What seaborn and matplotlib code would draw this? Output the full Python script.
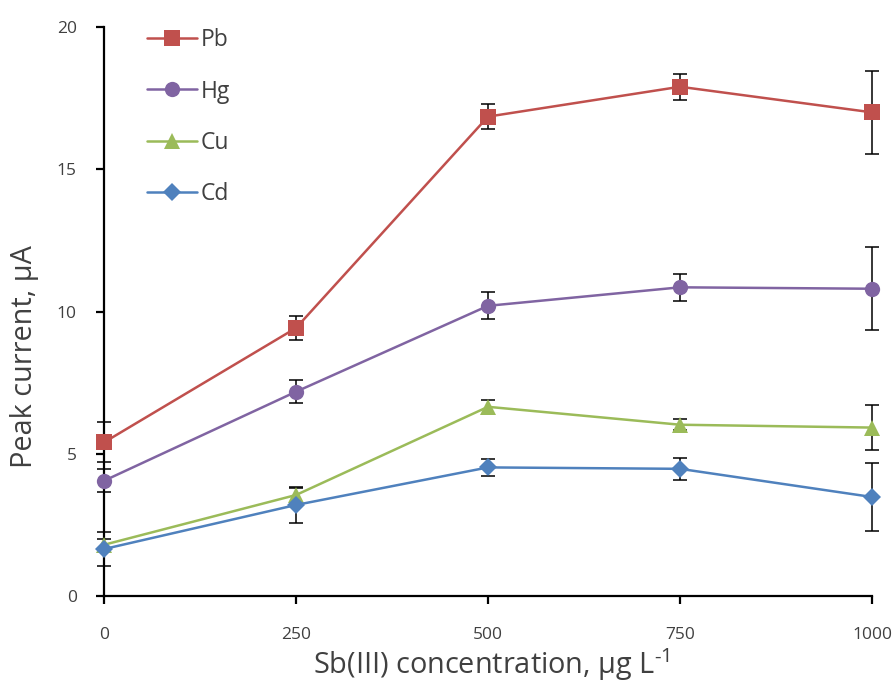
import matplotlib
matplotlib.use("Agg")
import matplotlib.pyplot as plt
import seaborn as sns
import pandas as pd

# ---- data ----
concentration = [0, 250, 500, 750, 1000]
metals = ["Pb", "Hg", "Cu", "Cd"]
pb = [5.4, 9.42, 16.85, 17.9, 17.0]
hg = [4.05, 7.18, 10.2, 10.85, 10.8]
cu = [1.8, 3.55, 6.65, 6.02, 5.92]
cd = [1.65, 3.2, 4.52, 4.47, 3.48]
pb_err = [0.7, 0.42, 0.45, 0.45, 1.45]
hg_err = [0.4, 0.4, 0.47, 0.48, 1.46]
cu_err = [0.2, 0.25, 0.25, 0.2, 0.8]
cd_err = [0.6, 0.63, 0.3, 0.38, 1.18]
x_ticks = [0, 250, 500, 750, 1000]
y_ticks = [0, 5, 10, 15, 20]

colors = {"Pb": "#C0504D", "Hg": "#8064A2", "Cu": "#9BBB59", "Cd": "#4F81BD"}
marker_map = {"Pb": "s", "Hg": "o", "Cu": "^", "Cd": "D"}

values = {"Pb": pb, "Hg": hg, "Cu": cu, "Cd": cd}
errors = {"Pb": pb_err, "Hg": hg_err, "Cu": cu_err, "Cd": cd_err}

rows = []
for m in metals:
    for xv, yv, ev in zip(concentration, values[m], errors[m]):
        rows.append({"conc": xv, "current": yv, "err": ev, "metal": m})
df = pd.DataFrame(rows)

sns.set_style("white")
plt.rcParams["font.family"] = ["Open Sans", "DejaVu Sans"]
plt.rcParams["mathtext.fontset"] = "custom"
plt.rcParams["mathtext.rm"] = "Open Sans"

fig = plt.figure(figsize=(8.94, 6.84), dpi=100)
ax = fig.add_axes([104 / 894, 1 - 596 / 684, (872 - 104) / 894, (596 - 27) / 684])

# error bars (behind markers)
for m in metals:
    sub = df[df["metal"] == m]
    ax.errorbar(sub["conc"], sub["current"], yerr=sub["err"], fmt="none",
                ecolor="black", elinewidth=1.1, capsize=5, capthick=1.1,
                zorder=1.5, clip_on=False)

sns.lineplot(data=df, x="conc", y="current", hue="metal", style="metal",
             hue_order=metals, style_order=metals, palette=colors,
             markers=marker_map, dashes=False, linewidth=1.8,
             markersize=11, markeredgewidth=0, ax=ax, legend=True,
             clip_on=False, zorder=3)

for line in ax.get_lines():
    if line.get_marker() == "D":
        line.set_markersize(9)

ax.set_xlim(0, 1000)
ax.set_ylim(0, 20)
ax.set_xticks(x_ticks)
ax.set_yticks(y_ticks)
ax.set_xticklabels([str(v) for v in x_ticks])
ax.set_yticklabels([str(v) for v in y_ticks])

for s in ["top", "right"]:
    ax.spines[s].set_visible(False)
for s in ["left", "bottom"]:
    ax.spines[s].set_linewidth(1.6)
    ax.spines[s].set_color("black")

ax.tick_params(axis="both", direction="out", length=5.5, width=1.6,
               color="black", labelsize=12.5, labelcolor="#404040")
ax.tick_params(axis="y", pad=14)
ax.tick_params(axis="x", pad=17)
ax.tick_params(left=True, bottom=True)

ax.set_xlabel("Sb(III) concentration, μg L$^{\\mathregular{\u20101}}$",
              fontsize=20.8, color="#404040")
ax.set_ylabel("Peak current, μA", fontsize=20.8, color="#404040")
ax.xaxis.set_label_coords(0.505, -0.088)
ax.yaxis.set_label_coords(-0.084, 0.42)

handles, labels = ax.get_legend_handles_labels()
for h in handles:
    if h.get_marker() == "D":
        h.set_markersize(9)
leg = ax.legend(handles, labels, loc="upper left",
                bbox_to_anchor=(147 / 894, 1 - 28 / 684),
                bbox_transform=fig.transFigure, frameon=False,
                fontsize=16.5, labelspacing=1.2, handlelength=2.2,
                handletextpad=0.15, borderpad=0, borderaxespad=0)
for t in leg.get_texts():
    t.set_color("#404040")

fig.savefig("out.png", dpi=100)
